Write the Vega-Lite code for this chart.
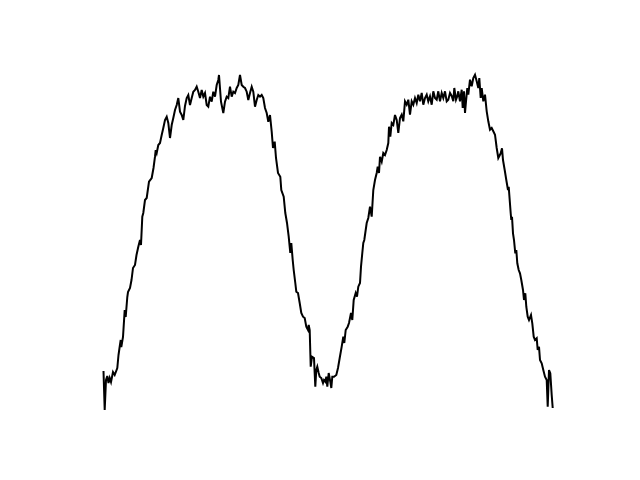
{
  "$schema": "https://vega.github.io/schema/vega-lite/v6.json",
  "width": 640,
  "height": 480,
  "autosize": {"type": "fit", "contains": "padding"},
  "padding": 0,
  "background": "white",
  "config": {"view": {"stroke": null}},
  "data": {"values": [
    {"t": -0.5, "v": 39}, {"t": 0.7, "v": 0}, {"t": 2, "v": 30}, {"t": 3.3, "v": 34}, {"t": 4.5, "v": 27},
    {"t": 5.7, "v": 32}, {"t": 7, "v": 28}, {"t": 9, "v": 38}, {"t": 10.7, "v": 35}, {"t": 13.3, "v": 42},
    {"t": 14.5, "v": 55}, {"t": 15.5, "v": 62}, {"t": 16.7, "v": 70}, {"t": 17.3, "v": 63}, {"t": 19, "v": 73},
    {"t": 20.7, "v": 100}, {"t": 21.7, "v": 93}, {"t": 23.3, "v": 113}, {"t": 24, "v": 118}, {"t": 26, "v": 122},
    {"t": 27.5, "v": 130}, {"t": 29, "v": 142}, {"t": 31, "v": 145}, {"t": 32.5, "v": 155}, {"t": 34.3, "v": 163.3},
    {"t": 36, "v": 170}, {"t": 37, "v": 165}, {"t": 38.3, "v": 193.3}, {"t": 39.3, "v": 197}, {"t": 41, "v": 210},
    {"t": 42.7, "v": 212}, {"t": 45, "v": 228.3}, {"t": 47.7, "v": 232}, {"t": 49.5, "v": 242}, {"t": 51, "v": 253.3},
    {"t": 51.7, "v": 260}, {"t": 52.7, "v": 257}, {"t": 54.3, "v": 265}, {"t": 56, "v": 267}, {"t": 57.7, "v": 275},
    {"t": 59.3, "v": 282}, {"t": 61, "v": 290}, {"t": 62.7, "v": 293.3}, {"t": 64.3, "v": 287}, {"t": 66, "v": 272},
    {"t": 67.7, "v": 285}, {"t": 69.3, "v": 292}, {"t": 71, "v": 300}, {"t": 72.7, "v": 305}, {"t": 74.3, "v": 312},
    {"t": 76, "v": 298.3}, {"t": 77.7, "v": 295}, {"t": 79.3, "v": 290}, {"t": 81, "v": 304}, {"t": 82.7, "v": 312},
    {"t": 84.3, "v": 315}, {"t": 86, "v": 305}, {"t": 87.7, "v": 312}, {"t": 89.3, "v": 318.3}, {"t": 91, "v": 320},
    {"t": 92.7, "v": 323.3}, {"t": 94.3, "v": 318.3}, {"t": 96, "v": 312}, {"t": 97.7, "v": 320}, {"t": 99.3, "v": 313.3},
    {"t": 101, "v": 317}, {"t": 102.7, "v": 305}, {"t": 104.3, "v": 303.3}, {"t": 106, "v": 313.3}, {"t": 107.7, "v": 308.3},
    {"t": 109.3, "v": 318.3}, {"t": 111, "v": 313.3}, {"t": 112.7, "v": 325}, {"t": 114.3, "v": 330}, {"t": 115, "v": 335},
    {"t": 117, "v": 308.3}, {"t": 119.3, "v": 297}, {"t": 121, "v": 308.3}, {"t": 122.7, "v": 313.3}, {"t": 124.3, "v": 312},
    {"t": 126, "v": 323.3}, {"t": 127.7, "v": 313.3}, {"t": 129.3, "v": 318.3}, {"t": 131, "v": 317}, {"t": 132.7, "v": 322},
    {"t": 134.3, "v": 325}, {"t": 136, "v": 335}, {"t": 137.7, "v": 325}, {"t": 139.3, "v": 323.3}, {"t": 141, "v": 322},
    {"t": 142.7, "v": 318.3}, {"t": 144.3, "v": 310}, {"t": 146, "v": 317}, {"t": 147.7, "v": 323.3}, {"t": 149.3, "v": 318.3},
    {"t": 151, "v": 303.3}, {"t": 152.7, "v": 310}, {"t": 154.3, "v": 315}, {"t": 156, "v": 313.3}, {"t": 157.7, "v": 315},
    {"t": 159.3, "v": 312}, {"t": 161, "v": 302}, {"t": 162.7, "v": 297}, {"t": 164.3, "v": 288.3}, {"t": 166, "v": 295},
    {"t": 167.7, "v": 278.3}, {"t": 169, "v": 262}, {"t": 170.7, "v": 268.3}, {"t": 172, "v": 252}, {"t": 174, "v": 237},
    {"t": 176.3, "v": 233.3}, {"t": 177.3, "v": 220}, {"t": 179.7, "v": 213.3}, {"t": 181.3, "v": 197}, {"t": 183, "v": 187},
    {"t": 184.7, "v": 173.3}, {"t": 186.3, "v": 157}, {"t": 187.3, "v": 167}, {"t": 188.7, "v": 150}, {"t": 189.7, "v": 140},
    {"t": 191.3, "v": 127}, {"t": 192.3, "v": 118.3}, {"t": 194, "v": 117}, {"t": 195.7, "v": 107}, {"t": 197.3, "v": 97},
    {"t": 199, "v": 93.3}, {"t": 200.7, "v": 92}, {"t": 202.3, "v": 83.3}, {"t": 204, "v": 80}, {"t": 204.7, "v": 85},
    {"t": 205.7, "v": 80}, {"t": 206.7, "v": 43.3}, {"t": 208, "v": 53.3}, {"t": 210, "v": 52}, {"t": 211.3, "v": 23.3},
    {"t": 212.3, "v": 40}, {"t": 213.3, "v": 43.3}, {"t": 214.7, "v": 37}, {"t": 215.7, "v": 33.3}, {"t": 217.3, "v": 32},
    {"t": 219, "v": 27}, {"t": 220, "v": 30}, {"t": 221.3, "v": 28.3}, {"t": 222.3, "v": 33.3}, {"t": 223.3, "v": 23.3},
    {"t": 224.7, "v": 37}, {"t": 226.3, "v": 28.3}, {"t": 227.3, "v": 22}, {"t": 228.3, "v": 33.3}, {"t": 230, "v": 33.3},
    {"t": 232.3, "v": 35}, {"t": 234, "v": 42}, {"t": 235.7, "v": 52}, {"t": 237.7, "v": 63.3}, {"t": 239.3, "v": 73.3},
    {"t": 240.3, "v": 67}, {"t": 241.7, "v": 80}, {"t": 243.7, "v": 83.3}, {"t": 245, "v": 87}, {"t": 247, "v": 97},
    {"t": 248.3, "v": 90}, {"t": 249.7, "v": 110}, {"t": 251.7, "v": 117}, {"t": 253, "v": 113.3}, {"t": 254.3, "v": 123.3},
    {"t": 256, "v": 127}, {"t": 257, "v": 143.3}, {"t": 258.3, "v": 157}, {"t": 259.3, "v": 167}, {"t": 260.3, "v": 170},
    {"t": 261.7, "v": 180}, {"t": 262.7, "v": 187}, {"t": 264.3, "v": 192}, {"t": 266, "v": 203.3}, {"t": 267.7, "v": 193.3},
    {"t": 269.3, "v": 220}, {"t": 271, "v": 230}, {"t": 272.7, "v": 237}, {"t": 273.7, "v": 243.3}, {"t": 275, "v": 237},
    {"t": 276, "v": 253.3}, {"t": 277.7, "v": 248.3}, {"t": 279.3, "v": 257}, {"t": 281, "v": 255}, {"t": 282.7, "v": 260},
    {"t": 284.3, "v": 267}, {"t": 285, "v": 283.3}, {"t": 286.3, "v": 273.3}, {"t": 287.7, "v": 287}, {"t": 289.3, "v": 285},
    {"t": 291, "v": 295}, {"t": 292.7, "v": 290}, {"t": 294.3, "v": 277}, {"t": 296, "v": 292}, {"t": 297.7, "v": 295.3},
    {"t": 299.3, "v": 288.7}, {"t": 301, "v": 308.7}, {"t": 302.7, "v": 305.3}, {"t": 304.3, "v": 310.3}, {"t": 306, "v": 295.3},
    {"t": 307.7, "v": 308.7}, {"t": 309.3, "v": 305.3}, {"t": 311, "v": 312}, {"t": 312.7, "v": 307}, {"t": 314.3, "v": 315.3},
    {"t": 316, "v": 308.7}, {"t": 317.7, "v": 317}, {"t": 319.3, "v": 305.3}, {"t": 321, "v": 312}, {"t": 322.7, "v": 315.3},
    {"t": 324.3, "v": 308.7}, {"t": 326, "v": 313.7}, {"t": 327.7, "v": 305.3}, {"t": 329.3, "v": 318.7}, {"t": 331, "v": 312},
    {"t": 332.7, "v": 310.3}, {"t": 334.3, "v": 318.7}, {"t": 336, "v": 308.7}, {"t": 337.7, "v": 317}, {"t": 339.3, "v": 312},
    {"t": 341, "v": 318.7}, {"t": 342.7, "v": 308.7}, {"t": 344.3, "v": 310.3}, {"t": 346, "v": 317}, {"t": 347.7, "v": 314},
    {"t": 349.3, "v": 308.7}, {"t": 350.3, "v": 322}, {"t": 352, "v": 310.3}, {"t": 353.3, "v": 313.7}, {"t": 354.3, "v": 318.7},
    {"t": 356, "v": 308.7}, {"t": 357.7, "v": 320.3}, {"t": 358.7, "v": 302}, {"t": 360, "v": 318.7}, {"t": 361, "v": 297},
    {"t": 362, "v": 308.7}, {"t": 363.3, "v": 322}, {"t": 364.3, "v": 315.3}, {"t": 366, "v": 330.3}, {"t": 367.7, "v": 323.7},
    {"t": 369.3, "v": 332}, {"t": 371, "v": 335.3}, {"t": 372.7, "v": 328.7}, {"t": 374.3, "v": 322}, {"t": 375.3, "v": 332},
    {"t": 376.7, "v": 312}, {"t": 377.7, "v": 322}, {"t": 379.3, "v": 308.7}, {"t": 381, "v": 315.3}, {"t": 382.7, "v": 298.7},
    {"t": 384.3, "v": 288.7}, {"t": 386, "v": 280.3}, {"t": 387.7, "v": 282}, {"t": 389.3, "v": 278.7}, {"t": 391, "v": 275.3},
    {"t": 392.7, "v": 262}, {"t": 394.3, "v": 252}, {"t": 396.7, "v": 256.7}, {"t": 398, "v": 261.7}, {"t": 399, "v": 250},
    {"t": 400.7, "v": 240}, {"t": 402.3, "v": 230}, {"t": 404, "v": 220}, {"t": 404.7, "v": 223.3}, {"t": 405.7, "v": 210},
    {"t": 406.7, "v": 196.7}, {"t": 407.3, "v": 190}, {"t": 408, "v": 193.3}, {"t": 409, "v": 176.7}, {"t": 410, "v": 170},
    {"t": 411.3, "v": 156.7}, {"t": 412.3, "v": 160}, {"t": 413.3, "v": 146.7}, {"t": 414.7, "v": 140}, {"t": 416, "v": 136.7},
    {"t": 417.3, "v": 130}, {"t": 419, "v": 120}, {"t": 420, "v": 110}, {"t": 421.3, "v": 116.7}, {"t": 422.3, "v": 103.3},
    {"t": 423.7, "v": 93.3}, {"t": 425, "v": 90}, {"t": 427, "v": 95}, {"t": 428.3, "v": 86.7}, {"t": 429.7, "v": 73.3},
    {"t": 431, "v": 70}, {"t": 432.7, "v": 71.7}, {"t": 433.7, "v": 60}, {"t": 435, "v": 63.3}, {"t": 436, "v": 50},
    {"t": 437.7, "v": 46.7}, {"t": 439.3, "v": 40}, {"t": 441, "v": 33.3}, {"t": 442.7, "v": 30}, {"t": 443.7, "v": 3.3},
    {"t": 445, "v": 40}, {"t": 446.3, "v": 36.7}, {"t": 447.7, "v": 15}, {"t": 448.7, "v": 2}
  ]},
  "mark": {"type": "line", "color": "black", "strokeWidth": 2, "strokeJoin": "miter", "clip": false},
  "encoding": {
    "x": {"field": "t", "type": "quantitative", "scale": {"domain": [-104, 536], "nice": false, "zero": false}, "axis": null},
    "y": {"field": "v", "type": "quantitative", "scale": {"domain": [-70, 410], "nice": false, "zero": false}, "axis": null}
  }
}
